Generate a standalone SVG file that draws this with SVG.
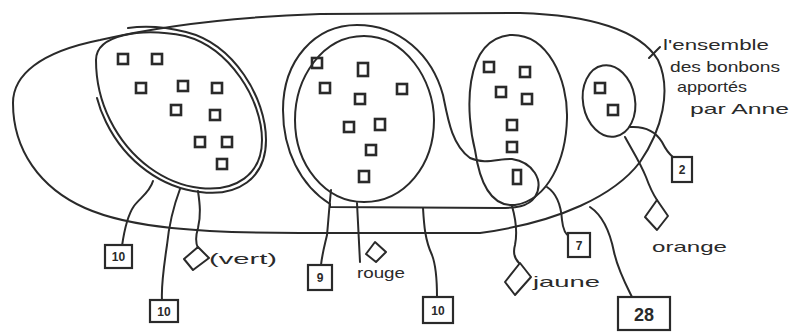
<svg xmlns="http://www.w3.org/2000/svg" width="793" height="333" viewBox="0 0 793 333">
<style>
.ln{fill:none;stroke:#2a2a2a;stroke-width:2;stroke-linecap:round;stroke-linejoin:round}
.sq{fill:none;stroke:#2a2a2a;stroke-width:2.6}
.bx{fill:#fff;stroke:#2a2a2a;stroke-width:2.2}
.dm{fill:#fff;stroke:#2a2a2a;stroke-width:2;stroke-linejoin:round}
.t{font-family:"Liberation Sans","DejaVu Sans",sans-serif;fill:#2a2a2a}
.lab{font-size:15px}
.num{font-size:12px;font-weight:bold;text-anchor:middle}
</style>
<rect width="793" height="333" fill="#fff"/>

<g id="ensemble-anne">
<path class="ln" d="M 13,103 C 13,75 40,52 100,40 C 160,26 230,17 320,14 L 520,13 C 590,15 640,30 658,60 C 672,90 662,130 640,162 C 615,195 560,222 480,233 L 300,233 C 200,233 130,228 85,208 C 40,188 13,150 13,103 Z"/>
<line class="ln" x1="649" y1="58" x2="660" y2="47"/>
<text class="t lab" x="663" y="50" textLength="106" lengthAdjust="spacingAndGlyphs">l'ensemble</text>
<text class="t lab" x="670" y="72" textLength="110" lengthAdjust="spacingAndGlyphs">des bonbons</text>
<text class="t lab" x="677" y="92" textLength="70" lengthAdjust="spacingAndGlyphs">apportés</text>
<text class="t lab" x="690" y="114" textLength="99" lengthAdjust="spacingAndGlyphs">par Anne</text>
</g>

<g id="vert">
<path class="ln" d="M 96,60 C 96,35 140,27 185,36 C 230,48 262,100 262,140 C 262,175 235,192 200,188 C 165,184 130,160 110,120 C 100,100 96,80 96,60 Z"/>
<path class="ln" d="M 128,28 C 150,25 170,28 186,32 C 234,44 266,98 266,140 C 266,179 237,197 200,192 C 163,188 126,163 106,122 C 102,114 99,106 97,98"/>
<rect class="sq" x="118" y="54" width="10" height="10"/>
<rect class="sq" x="152" y="54" width="10" height="10"/>
<rect class="sq" x="136" y="83" width="10" height="10"/>
<rect class="sq" x="178" y="81" width="10" height="10"/>
<rect class="sq" x="212" y="83" width="10" height="10"/>
<rect class="sq" x="171" y="105" width="10" height="10"/>
<rect class="sq" x="210" y="110" width="10" height="10"/>
<rect class="sq" x="195" y="137" width="10" height="10"/>
<rect class="sq" x="222" y="137" width="10" height="10"/>
<rect class="sq" x="217" y="159" width="10" height="10"/>
</g>

<g id="rouge">
<path class="ln" d="M 364,36 C 405,36 434,80 434,120 C 434,165 405,202 364,202 C 325,202 295,165 295,120 C 295,78 322,36 364,36 Z"/>
<path class="ln" d="M 330,204 C 300,185 283,150 283,110 C 283,60 315,25 357,25 C 400,25 432,55 443,95 C 448,120 452,145 470,158 C 485,165 500,158 512,159 C 532,162 545,180 535,197 C 528,207 515,208 500,208 L 330,207 Z"/>
<rect class="sq" x="312" y="58" width="10" height="10"/>
<rect class="sq" x="358" y="63" width="10" height="13"/>
<rect class="sq" x="320" y="83" width="10" height="10"/>
<rect class="sq" x="355" y="94" width="10" height="10"/>
<rect class="sq" x="397" y="84" width="10" height="10"/>
<rect class="sq" x="344" y="122" width="10" height="10"/>
<rect class="sq" x="375" y="119" width="10" height="11"/>
<rect class="sq" x="366" y="145" width="10" height="10"/>
<rect class="sq" x="359" y="171" width="10" height="11"/>
</g>

<g id="jaune">
<path class="ln" d="M 510,35 C 548,33 568,80 567,118 C 566,160 548,200 515,205 C 492,207 480,185 475,150 C 466,115 462,40 510,35 Z"/>
<rect class="sq" x="484" y="62" width="10" height="10"/>
<rect class="sq" x="520" y="67" width="10" height="10"/>
<rect class="sq" x="496" y="87" width="10" height="10"/>
<rect class="sq" x="522" y="94" width="10" height="10"/>
<rect class="sq" x="507" y="120" width="10" height="10"/>
<rect class="sq" x="507" y="142" width="10" height="10"/>
<rect class="sq" x="513" y="170" width="8" height="14"/>
</g>

<g id="orange">
<ellipse class="ln" cx="609" cy="101" rx="26" ry="36" transform="rotate(-10 609 101)"/>
<rect class="sq" x="595" y="83" width="10" height="10"/>
<rect class="sq" x="608" y="105" width="10" height="10"/>
</g>

<g id="connectors">
<path class="ln" d="M 153,181 C 150,192 140,198 134,206 C 127,216 124,232 122,246"/>
<path class="ln" d="M 180,189 C 174,205 169,225 167,245 C 164,265 161,285 162,300"/>
<path class="ln" d="M 198,191 C 200,205 201,215 198,228 C 195,238 196,244 198,248"/>
<path class="ln" d="M 331,190 C 329,210 328,225 327,235 C 324,248 322,255 321,265"/>
<path class="ln" d="M 357,203 C 358,225 359,245 360,262"/>
<path class="ln" d="M 423,208 C 424,225 425,240 432,255 C 437,268 437,285 437,297"/>
<path class="ln" d="M 512,206 C 516,220 517,235 515,245 C 513,252 514,258 519,263"/>
<path class="ln" d="M 547,187 C 556,193 561,205 562,220 C 563,230 566,235 570,237"/>
<path class="ln" d="M 590,207 C 602,215 610,232 614,252 C 618,270 626,285 632,297"/>
<path class="ln" d="M 630,127 C 645,126 656,132 662,142 C 666,150 669,154 673,157"/>
<path class="ln" d="M 625,137 C 632,150 640,162 646,177 C 650,188 653,194 657,200"/>
</g>

<g id="n-vert-10a">
<rect class="bx" x="105" y="245" width="27" height="23"/>
<text class="t num" x="118.5" y="261">10</text>
</g>
<g id="n-vert-10b">
<rect class="bx" x="150" y="300" width="28" height="22"/>
<text class="t num" x="164" y="316">10</text>
</g>
<g id="n-vert-couleur">
<polygon class="dm" points="198,247 209,258 193,270 184,259"/>
<text class="t lab" x="209" y="264" textLength="68" lengthAdjust="spacingAndGlyphs">(vert)</text>
</g>
<g id="n-rouge-9">
<rect class="bx" x="308" y="265" width="24" height="25"/>
<text class="t num" x="320" y="282">9</text>
</g>
<g id="n-rouge-couleur">
<polygon class="dm" points="375,242 386,252 376,262 366,254"/>
<text class="t lab" x="357" y="278" textLength="48" lengthAdjust="spacingAndGlyphs">rouge</text>
</g>
<g id="n-10">
<rect class="bx" x="423" y="297" width="30" height="26"/>
<text class="t num" x="438" y="315">10</text>
</g>
<g id="n-jaune-couleur">
<polygon class="dm" points="520,263 531,277 515,295 505,282"/>
<text class="t lab" x="533" y="287" textLength="67" lengthAdjust="spacingAndGlyphs">jaune</text>
</g>
<g id="n-jaune-7">
<rect class="bx" x="568" y="233" width="22" height="24"/>
<text class="t num" x="579" y="250">7</text>
</g>
<g id="n-28">
<rect class="bx" x="618" y="297" width="52" height="33"/>
<text class="t" x="644" y="321" font-size="18" font-weight="bold" text-anchor="middle">28</text>
</g>
<g id="n-orange-2">
<rect class="bx" x="672" y="157" width="20" height="25"/>
<text class="t num" x="682" y="174">2</text>
</g>
<g id="n-orange-couleur">
<polygon class="dm" points="657,200 668,216 657,230 645,217"/>
<text class="t lab" x="652" y="252" textLength="75" lengthAdjust="spacingAndGlyphs">orange</text>
</g>
</svg>
